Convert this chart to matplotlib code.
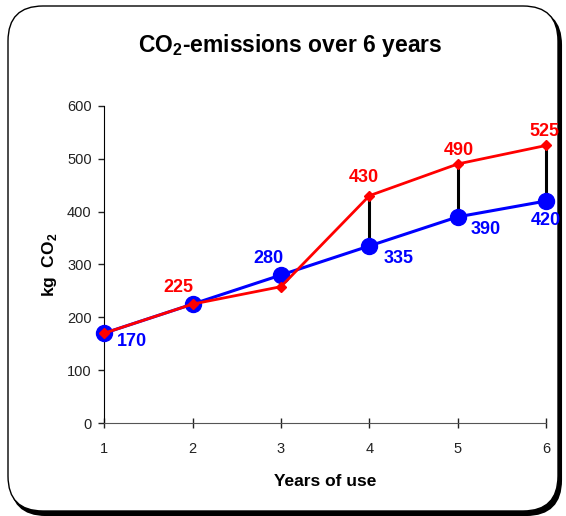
import matplotlib
matplotlib.use("Agg")
import matplotlib.pyplot as plt
from matplotlib.patches import FancyBboxPatch

plt.rcParams["font.family"] = ["Liberation Sans", "DejaVu Sans"]
plt.rcParams["mathtext.fontset"] = "custom"
plt.rcParams["mathtext.rm"] = "Liberation Sans"
plt.rcParams["mathtext.bf"] = "Liberation Sans:bold"

# -------------------------------
# Data
# -------------------------------
years = [1, 2, 3, 4, 5, 6]
blue_vals = [170, 225, 280, 335, 390, 420]
red_vals = [170, 225, 258, 430, 490, 525]
gap_years = [4, 5, 6]

blue_labels = {1: "170", 3: "280", 4: "335", 5: "390", 6: "420"}
red_labels = {2: "225", 4: "430", 5: "490", 6: "525"}

# label offsets in points
blue_offsets = {1: (20, -6), 3: (-9, 12), 4: (21, -9), 5: (20, -9), 6: (0, -14)}
red_offsets = {2: (-10, 12), 4: (-4, 13), 5: (1, 10), 6: (-1, 10)}

# -------------------------------
# Figure
# -------------------------------
fig = plt.figure(figsize=(5.66, 5.16), dpi=100)

# rounded frame with shadow (in inches)
shadow = FancyBboxPatch((0.11, 0.01), 5.50, 5.05, boxstyle="round,pad=0,rounding_size=0.35",
                        transform=fig.dpi_scale_trans, facecolor="black", edgecolor="black",
                        lw=1.5, zorder=-2)
frame = FancyBboxPatch((0.08, 0.05), 5.50, 5.05, boxstyle="round,pad=0,rounding_size=0.35",
                       transform=fig.dpi_scale_trans, facecolor="white", edgecolor="black",
                       lw=1.0, zorder=-1)
fig.patches.extend([shadow, frame])

ax = fig.add_axes([0.184, 0.180, 0.781, 0.615])
ax.set_facecolor("none")

for x in gap_years:
    i = years.index(x)
    ax.plot([x, x], [blue_vals[i], red_vals[i]], color="black", lw=2.2, zorder=2, clip_on=False)

ax.plot(years, blue_vals, color="#0000FF", lw=2.2, marker="o", markersize=11.5, zorder=3,
        clip_on=False)
ax.plot(years, red_vals, color="#FF0000", lw=2.0, marker="D", markersize=5.5, zorder=4,
        clip_on=False)

for x, t in blue_labels.items():
    i = years.index(x)
    ax.annotate(t, (x, blue_vals[i]), xytext=blue_offsets[x], textcoords="offset points",
                ha="center", va="center", color="#0000FF", fontsize=13, fontweight="bold")
for x, t in red_labels.items():
    i = years.index(x)
    ax.annotate(t, (x, red_vals[i]), xytext=red_offsets[x], textcoords="offset points",
                ha="center", va="center", color="#FF0000", fontsize=13, fontweight="bold")

ax.set_xlim(1, 6)
ax.set_ylim(0, 600)
ax.set_xticks(years)
ax.set_yticks(range(0, 601, 100))
ax.tick_params(labelsize=10.5, colors="#222222")
ax.tick_params(axis="y", length=4, width=1, pad=5)
ax.tick_params(axis="x", direction="inout", length=7, width=1, pad=10)
for s in ["top", "right"]:
    ax.spines[s].set_visible(False)
ax.spines["left"].set_color("black")
ax.spines["bottom"].set_color("#555555")

ax.set_xlabel("Years of use", fontsize=12.5, fontweight="bold", labelpad=13)
ax.set_ylabel(r"kg  CO$_\mathbf{2}$", fontsize=12.5, fontweight="bold", labelpad=6)

fig.text(0.512, 0.912, r"CO$_\mathbf{2}$-emissions over 6 years", ha="center", va="center",
         fontsize=16.5, fontweight="bold")

fig.savefig("out.png", dpi=100)
